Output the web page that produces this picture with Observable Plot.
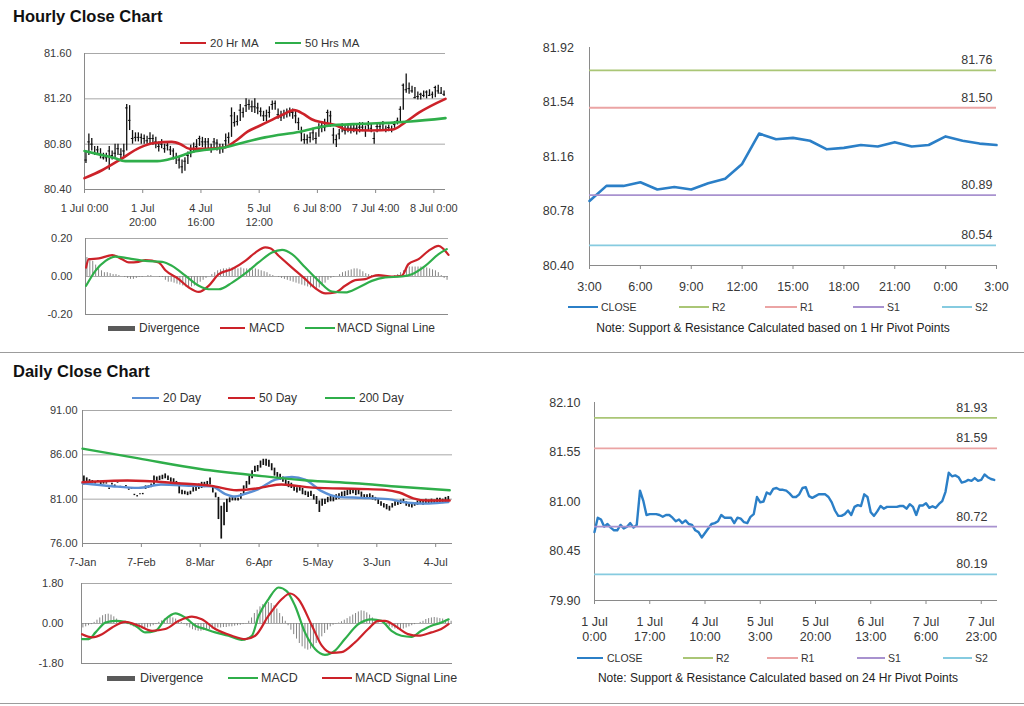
<!DOCTYPE html>
<html>
<head>
<meta charset="utf-8">
<script src="https://cdn.jsdelivr.net/npm/d3@7"></script>
<script src="https://cdn.jsdelivr.net/npm/@observablehq/plot@0.6"></script>
<style>
html,body{margin:0;padding:0;background:#fff;}
#root{position:relative;width:1024px;height:706px;overflow:hidden;background:#fff;font-family:"Liberation Sans",Arial,Helvetica,sans-serif;color:#333;}
.title{position:absolute;font-weight:bold;font-size:16.5px;line-height:16px;color:#111;white-space:nowrap;}
.sep{position:absolute;left:0;width:1024px;height:1px;background:#9c9c9c;}
.leg{position:absolute;height:16px;display:flex;align-items:center;white-space:nowrap;color:#333;}
.leg .sw{display:inline-block;}
.note{position:absolute;height:16px;line-height:16px;font-size:12px;color:#222;white-space:nowrap;transform:translateX(-50%);}
</style>
</head>
<body>
<div id="root"></div>
<script>
// ---------------- DATA ----------------
// Hourly bars, 1 Jul 0:00 -> 8 Jul 3:00 (124 bars)
const hourlyClose = [
80.66,80.82,80.80,80.72,80.75,80.71,80.68,80.68,80.74,80.70,
80.72,80.76,80.71,80.74,81.12,81.01,80.85,80.86,80.86,80.86,
80.85,80.83,80.85,80.85,80.82,80.78,80.80,80.76,80.79,80.75,
80.74,80.68,80.66,80.60,80.65,80.70,80.75,80.76,80.78,80.85,
80.82,80.82,80.82,80.76,80.82,80.81,80.77,80.76,80.83,80.86,
81.05,80.99,81.00,81.10,81.08,81.14,81.15,81.13,81.13,81.12,
81.09,81.05,81.05,81.08,81.15,81.16,81.06,81.04,81.06,81.08,
81.08,81.08,81.05,80.99,80.90,80.84,80.84,80.86,80.90,80.85,
80.94,80.96,80.95,81.08,81.05,80.88,80.84,80.89,80.95,80.92,
80.94,80.94,80.94,80.94,80.95,80.95,80.92,80.97,80.94,
80.85,80.955,80.955,80.98,80.93,80.947,80.93,80.973,81.005,81.108,
81.32,81.28,81.29,81.27,81.21,81.22,81.24,81.23,81.26,81.23,
81.24,81.30,81.27,81.25,81.24];
const hourlyHigh = [
80.74,80.89,80.85,80.78,80.78,80.76,80.72,80.72,80.78,80.74,
80.80,80.80,80.76,80.80,81.15,81.14,80.92,80.90,80.90,80.89,
80.88,80.87,80.90,80.88,80.86,80.82,80.84,80.80,80.82,80.78,
80.76,80.72,80.69,80.66,80.68,80.73,80.79,80.81,80.84,80.87,
80.86,80.85,80.85,80.80,80.85,80.84,80.80,80.80,80.89,80.90,
81.12,81.08,81.05,81.15,81.12,81.20,81.19,81.18,81.20,81.16,
81.12,81.09,81.10,81.13,81.18,81.18,81.11,81.09,81.10,81.11,
81.12,81.11,81.09,81.03,80.95,80.89,80.88,80.90,80.94,80.90,
80.98,81.00,81.02,81.10,81.09,80.94,80.88,80.93,80.98,80.97,
80.97,80.97,80.98,80.97,80.99,80.99,80.96,81.00,80.98,80.90,
80.98,80.99,81.00,80.96,80.97,80.96,81.00,81.03,81.13,81.33,
81.42,81.34,81.31,81.30,81.26,81.25,81.27,81.27,81.28,81.26,
81.31,81.32,81.30,81.27];
const hourlyLow = [
80.63,80.70,80.74,80.70,80.70,80.67,80.66,80.64,80.57,80.66,
80.68,80.70,80.66,80.68,80.74,80.92,80.80,80.82,80.82,80.80,
80.80,80.80,80.80,80.79,80.76,80.73,80.76,80.72,80.74,80.70,
80.66,80.62,80.58,80.54,80.56,80.62,80.68,80.72,80.74,80.78,
80.77,80.76,80.76,80.72,80.75,80.74,80.71,80.72,80.76,80.80,
80.86,80.95,80.96,81.00,81.03,81.08,81.10,81.08,81.07,81.06,
81.04,81.00,81.00,81.03,81.10,81.10,81.02,81.00,81.02,81.03,
81.04,81.02,80.98,80.92,80.82,80.80,80.80,80.81,80.83,80.80,
80.86,80.90,80.91,80.98,80.95,80.80,80.77,80.84,80.90,80.88,
80.90,80.89,80.90,80.88,80.90,80.91,80.86,80.92,80.90,80.80,
80.90,80.92,80.93,80.90,80.91,80.90,80.94,80.97,81.00,81.10,
81.25,81.24,81.25,81.20,81.19,81.19,81.21,81.20,81.22,81.20,
81.21,81.24,81.24,81.22];
const hourlyTickIdx = [0,20,40,60,80,100,120];
const hourlyTickLabels = ["1 Jul 0:00","1 Jul\n20:00","4 Jul\n16:00","5 Jul\n12:00","6 Jul 8:00","7 Jul 4:00","8 Jul 0:00"];
const hourlyYTicks = [80.40,80.80,81.20,81.60];
const ma20HIdx = [0,6,12,19,24,30,33,36,42,48,52,56,60,64,68,72,75,78,82,86,90,98,106,110,115,124];
const ma20H    = [80.50,80.57,80.66,80.77,80.81,80.82,80.80,80.76,80.76,80.77,80.83,80.91,80.96,81.01,81.06,81.10,81.07,81.02,80.99,80.97,80.93,80.92,80.93,80.99,81.08,81.20];
const ma50HIdx = [0,5,10,14,25,31,37,48,54,62,74,83,95,106,112,124];
const ma50H    = [80.74,80.71,80.68,80.65,80.65,80.68,80.73,80.77,80.81,80.86,80.91,80.96,80.98,80.99,81.00,81.03];

// Hourly MACD
const macdHIdx = [0.2,1.1,4.6,9.2,12.6,14.9,18.3,20.6,25.2,27.5,32.1,35.6,39,42.4,45.9,50.5,55,58.5,61.9,63.6,66.5,71.1,75.7,79.1,82.6,86,89.4,92.9,96.3,98.6,100.9,105.5,108.9,111.2,114.7,118.1,121.6,123.3,125];
const macdH    = [0.047,0.091,0.095,0.112,0.091,0.074,0.077,0.086,0.074,0.033,-0.014,-0.058,-0.081,-0.049,0.012,0.039,0.082,0.126,0.153,0.149,0.109,0.047,-0.014,-0.061,-0.089,-0.084,-0.049,-0.019,-0.014,0,0.007,0,0.004,0.065,0.091,0.135,0.161,0.144,0.114];
const sigHIdx  = [0.2,3.4,6.9,10.3,14.9,20.6,26.4,29.8,34.4,39,42.4,45.9,50.5,55,59.6,64.2,67.7,71.1,75.7,80.3,84.9,89.4,94,98.6,103.2,108.9,112.4,117,121.6,124.4];
const sigH     = [-0.049,0.03,0.082,0.105,0.095,0.082,0.077,0.056,0.004,-0.049,-0.067,-0.067,-0.032,0.016,0.074,0.126,0.140,0.118,0.047,-0.023,-0.079,-0.084,-0.058,-0.023,-0.005,0,0.012,0.056,0.118,0.144];
const divH = [
0.10,0.09,0.08,0.06,0.04,0.03,0.02,0.02,0.015,0.01,
0.01,0.005,0,-0.005,-0.01,-0.015,-0.015,-0.01,-0.005,-0.005,
0,0.005,0.005,0,0,-0.005,-0.005,-0.02,-0.03,-0.03,
-0.035,-0.04,-0.045,-0.05,-0.055,-0.06,-0.055,-0.05,-0.04,-0.03,
-0.02,-0.01,0,0.01,0.02,0.03,0.035,0.04,0.04,0.045,
0.045,0.045,0.04,0.045,0.04,0.04,0.04,0.035,0.04,0.035,
0.03,0.025,0.02,0.01,0.005,0,-0.005,-0.01,-0.015,-0.02,
-0.025,-0.03,-0.035,-0.04,-0.045,-0.05,-0.055,-0.06,-0.06,-0.065,
-0.06,-0.05,-0.035,-0.02,-0.01,-0.005,0,0.01,0.02,0.025,
0.03,0.035,0.04,0.04,0.035,0.025,0.015,0.01,0.005,0.005,
0,0,0,0.005,0,0,0.005,0.01,0.02,0.03,
0.045,0.05,0.05,0.05,0.05,0.05,0.045,0.045,0.04,0.035,
0.03,0.02,0.005,-0.01,-0.02];
const macdHYTicks = [-0.20,0.00,0.20];

// 1 Hr pivot chart (last 25 hourly closes: 7 Jul 3:00 -> 8 Jul 3:00)
const pivotStart1h = 99;
const pivot1hTickLabels = ["3:00","6:00","9:00","12:00","15:00","18:00","21:00","0:00","3:00"];
const pivot1hYTicks = [80.40,80.78,81.16,81.54,81.92];
const pivotNames = ["R2","R1","S1","S2"];
const pivot1h = [81.76,81.50,80.89,80.54];

// 24 Hr pivot chart
const pivot24hTickIdx = [0,17,34,51,68,85,102,119];
const pivot24hTickLabels = ["1 Jul\n0:00","1 Jul\n17:00","4 Jul\n10:00","5 Jul\n3:00","5 Jul\n20:00","6 Jul\n13:00","7 Jul\n6:00","7 Jul\n23:00"];
const pivot24hYTicks = [79.90,80.45,81.00,81.55,82.10];
const pivot24h = [81.93,81.59,80.72,80.19];

// Daily bars, 7-Jan -> 5-Jul
const dailyHigh = [
83.6,83.4,83.2,83.1,83.0,83.1,82.9,82.9,82.85,82.25,
82.8,82.6,82.9,82.45,82.35,82.55,82.15,82.2,81.55,81.4,
81.6,81.65,82.5,82.5,82.7,83.6,83.5,83.6,83.7,83.85,
83.6,83.4,83.3,83.0,82.8,82.0,81.9,81.8,81.9,82.3,
82.6,82.7,82.9,82.9,83.0,83.4,82.5,81.7,81.2,80.2,
80.6,81.0,81.15,81.2,81.15,81.1,81.6,82.5,83.0,83.6,
84.2,84.7,84.8,85.3,85.5,85.5,85.4,85.0,84.5,84.0,
83.8,83.5,83.2,83.0,82.8,82.5,82.3,82.5,82.2,81.9,
81.8,81.9,81.5,81.3,80.8,81.0,81.0,81.2,81.3,81.4,
81.5,81.6,81.8,81.9,82.0,82.1,82.2,82.0,82.1,81.8,
81.5,81.5,81.6,81.4,81.2,81.0,80.7,80.5,80.4,80.2,
80.5,80.7,80.8,80.9,81.0,80.7,80.6,80.5,80.6,80.8,
80.9,80.8,81.0,80.9,81.0,80.9,81.1,81.1,81.0,81.2,81.3];
const dailyLow = [
82.6,82.8,82.7,82.8,82.7,82.9,82.6,82.7,82.7,82.1,
82.6,82.4,82.8,82.3,82.2,82.4,82.0,82.1,81.4,81.25,
81.5,81.5,82.1,82.2,82.3,82.5,83.0,83.1,83.2,83.3,
83.1,82.9,82.8,82.6,81.6,81.5,81.5,81.4,81.5,81.8,
81.9,82.1,82.2,82.3,82.4,82.6,81.7,81.15,78.7,76.5,
78.0,79.5,80.6,80.8,80.8,80.8,81.0,81.5,82.2,82.6,
83.3,84.0,84.1,84.5,84.8,84.7,84.6,84.2,83.6,83.4,
83.1,82.9,82.5,82.3,82.2,81.9,81.7,81.9,81.5,81.4,
81.2,81.3,80.9,80.4,79.5,80.2,80.4,80.6,80.7,80.7,
80.9,81.0,81.2,81.3,81.4,81.5,81.6,81.4,81.5,81.2,
81.1,81.0,81.1,80.9,80.8,80.4,80.2,80.0,79.8,79.65,
80.0,80.2,80.3,80.4,80.5,80.2,80.1,80.0,80.2,80.3,
80.4,80.3,80.5,80.4,80.5,80.4,80.5,80.6,80.5,80.6,80.7];
const dailyTickIdx = [0,21,42,63,84,105,126];
const dailyTickLabels = ["7-Jan","7-Feb","8-Mar","6-Apr","5-May","3-Jun","4-Jul"];
const dailyYTicks = [76,81,86,91];
const d20Idx = [0,10.5,20,28,40,46,50.8,54.3,57.9,62.6,68.8,74.7,79.4,85.3,91.2,99.5,109,116,123.5,130.5];
const d20    = [82.8,82.46,82.27,82.65,82.5,82.46,81.6,81.3,81.6,82.1,83.2,83.5,83.2,81.9,81.26,81.15,81.0,80.6,80.5,80.66];
const d50Idx = [0,16,34,46,55,62,66,71,82,99,108,113,118,123,131];
const d50    = [82.9,83.1,82.8,82.5,82.0,82.2,82.45,82.65,82.3,82.15,82.05,81.75,81.1,80.85,80.85];
const d200Idx = [0,20,42,64,80,97,113,131];
const d200    = [86.7,85.6,84.4,83.6,83.1,82.8,82.4,82.0];

// Daily MACD
const dMacdIdx = [0.2,2.6,5,8.5,12,15.6,19.2,22.7,26.3,29.8,33.4,36.9,40.5,44,47.6,52.3,57,60.6,63,66.5,70.1,73,76,79.5,83.1,86.6,90.2,93.7,98.5,103.2,106.7,110.3,113.8,117.4,120.9,124.5,128,130.6];
const dMacd    = [-0.70,-0.70,-0.40,0.04,0.12,0.07,-0.10,-0.40,-0.33,0.19,0.46,0.27,-0.10,-0.25,-0.40,-0.55,-0.74,-0.55,0.34,1.09,1.62,1.46,0.79,-0.40,-1.15,-1.41,-1.22,-0.70,-0.03,0.19,0.12,-0.33,-0.55,-0.60,-0.33,-0.10,0.04,0.19];
const dSigIdx  = [0.2,3.8,7.3,10.9,15.6,20.4,25.1,29.8,34.6,39.3,42.8,47.6,53.5,58.2,61.8,66.5,71.2,74.2,77.2,82,85.5,89,92.5,97.3,102,105.6,108,111.5,116.2,119.8,124.5,128,130.6];
const dSig     = [-0.48,-0.62,-0.48,-0.18,0.07,-0.10,-0.33,-0.25,0.12,0.31,0.19,-0.25,-0.55,-0.70,-0.55,0.34,1.09,1.35,1.09,-0.10,-1.00,-1.32,-1.29,-0.85,-0.25,0.12,0.12,-0.10,-0.48,-0.55,-0.40,-0.25,-0.03];
const divD = [
-0.2,-0.15,-0.1,-0.05,0.05,0.15,0.25,0.35,0.40,0.42,
0.38,0.3,0.2,0.1,0.05,0,-0.05,-0.1,-0.15,-0.2,
-0.25,-0.25,-0.25,-0.2,-0.15,-0.1,-0.05,0.05,0.12,0.2,
0.25,0.27,0.25,0.2,0.12,0.05,-0.05,-0.12,-0.2,-0.28,
-0.32,-0.35,-0.35,-0.32,-0.3,-0.28,-0.25,-0.22,-0.2,-0.2,
-0.18,-0.18,-0.15,-0.15,-0.12,-0.1,-0.08,-0.05,-0.02,0.1,
0.25,0.45,0.6,0.75,0.85,0.92,0.95,0.9,0.8,0.65,
0.45,0.3,0.1,-0.1,-0.3,-0.5,-0.7,-0.9,-1.05,-1.15,
-1.2,-1.15,-1.05,-0.9,-0.75,-0.6,-0.45,-0.3,-0.15,-0.08,
-0.03,0.02,0.08,0.15,0.22,0.3,0.38,0.45,0.52,0.57,
0.55,0.48,0.38,0.25,0.12,0.05,0,-0.05,-0.1,-0.15,
-0.2,-0.25,-0.28,-0.28,-0.25,-0.2,-0.15,-0.1,-0.05,0,
0.05,0.1,0.18,0.22,0.25,0.27,0.25,0.22,0.2,0.15,0.12,0.1];
const macdDYTicks = [-1.80,0.00,1.80];

// ---------------- STYLE ----------------
const FONT = '"Liberation Sans", Arial, Helvetica, sans-serif';
const GRID = "#a8a8a8", AXIS = "#8a8a8a", TXT = "#383838";
const RED = "#cc2229", GREEN = "#2fae4a", BLUE20 = "#5a8fd4", CLOSEC = "#2b7fc7", DIVC = "#858585";
const pivotColors = ["#aac676","#eba4a4","#a892cf","#86cbe0"];

const root = document.getElementById("root");
function addTitle(text, x, top) {
  const d = document.createElement("div"); d.className = "title";
  d.style.left = x + "px"; d.style.top = top + "px"; d.textContent = text; root.appendChild(d);
}
function addSep(y) {
  const d = document.createElement("div"); d.className = "sep"; d.style.top = y + "px"; root.appendChild(d);
}
function addLegend(y, fontSize, items) {
  items.forEach(it => {
    const d = document.createElement("div"); d.className = "leg";
    d.style.left = it.x + "px"; d.style.top = (y - 8) + "px"; d.style.fontSize = fontSize + "px";
    const sw = document.createElement("span"); sw.className = "sw";
    sw.style.width = it.w + "px"; sw.style.height = (it.h || 2) + "px"; sw.style.background = it.color;
    sw.style.marginRight = (it.gap || 4) + "px";
    d.appendChild(sw); d.appendChild(document.createTextNode(it.label)); root.appendChild(d);
  });
}
function addNote(text, cx, y) {
  const d = document.createElement("div"); d.className = "note";
  d.style.left = cx + "px"; d.style.top = (y - 8) + "px"; d.textContent = text; root.appendChild(d);
}
const pts = (xs, ys) => xs.map((x, i) => ({x, y: ys[i]}));

function panel(o) {
  const left = o.fx0 - 90, top = o.fy0 - 30;
  const width = o.fx1 - left + 30, height = o.fy1 - top + 50;
  const yPerPx = (o.yDomain[1] - o.yDomain[0]) / (o.fy1 - o.fy0);
  const marks = [];
  if (o.grid) marks.push(Plot.ruleY(o.grid, {stroke: GRID, strokeWidth: 1}));
  marks.push(Plot.ruleX([o.xDomain[0]], {stroke: AXIS}));
  marks.push(Plot.ruleY([o.yDomain[0]], {stroke: AXIS}));
  marks.push(Plot.text(o.yTicks, {x: o.xDomain[0], y: d => d, text: d => d.toFixed(2), textAnchor: "end", dx: -o.yPad, fontSize: o.yFont, fill: TXT}));
  if (o.xTicks) {
    marks.push(Plot.ruleX(o.xTicks, {y1: o.yDomain[0], y2: o.yDomain[0] - 4 * yPerPx, stroke: AXIS}));
    marks.push(Plot.text(o.xTicks, {x: d => d, y: o.yDomain[0], text: (d, i) => o.xLabels[i], lineAnchor: "top", dy: o.xDy, fontSize: o.xFont, lineHeight: o.xLH || 1.2, fill: TXT}));
  }
  marks.push(...o.marks);
  const svg = Plot.plot({
    width, height,
    marginLeft: o.fx0 - left, marginRight: width - (o.fx1 - left),
    marginTop: o.fy0 - top, marginBottom: height - (o.fy1 - top),
    x: {domain: o.xDomain, axis: null},
    y: {domain: o.yDomain, axis: null},
    style: {background: "transparent", overflow: "visible", fontFamily: FONT, fontSize: "11px", color: TXT},
    marks
  });
  svg.style.position = "absolute"; svg.style.left = left + "px"; svg.style.top = top + "px";
  svg.style.maxWidth = "none";
  root.appendChild(svg);
}

// ---------------- TITLES / SEPARATORS ----------------
addTitle("Hourly Close Chart", 13, 8);
addTitle("Daily Close Chart", 13, 363);
addSep(352);
addSep(703);

// ---------------- PANEL 1: hourly bars ----------------
const hBars = hourlyClose.map((c, i) => ({i, c, h: hourlyHigh[i], l: hourlyLow[i]}));
panel({fx0: 84, fx1: 445, fy0: 53, fy1: 189, xDomain: [0, 124], yDomain: [80.4, 81.6],
  grid: hourlyYTicks, yTicks: hourlyYTicks, yPad: 13, yFont: 11,
  xTicks: hourlyTickIdx, xLabels: hourlyTickLabels, xDy: 13, xFont: 11, xLH: 1.27,
  marks: [
    Plot.ruleX(hBars, {x: d => d.i + 0.5, y1: "l", y2: "h", stroke: "#111", strokeWidth: 1.3}),
    Plot.ruleY(hBars, {y: "c", x1: d => d.i + 0.1, x2: d => d.i + 0.95, stroke: "#111", strokeWidth: 1}),
    Plot.line(pts(ma20HIdx, ma20H), {x: "x", y: "y", stroke: RED, strokeWidth: 2.6, curve: "monotone-x"}),
    Plot.line(pts(ma50HIdx, ma50H), {x: "x", y: "y", stroke: GREEN, strokeWidth: 2.6, curve: "monotone-x"})
  ]});
addLegend(43, 11.5, [
  {x: 180, w: 26, color: RED, label: "20 Hr MA"},
  {x: 275, w: 26, color: GREEN, label: "50 Hrs MA"}
]);

// ---------------- PANEL 2: hourly MACD ----------------
panel({fx0: 85, fx1: 448, fy0: 238, fy1: 314, xDomain: [0, 125], yDomain: [-0.2, 0.2],
  grid: macdHYTicks, yTicks: macdHYTicks, yPad: 13, yFont: 11,
  marks: [
    Plot.ruleX(divH.map((v, i) => ({i, v})), {x: d => d.i + 0.5, y1: 0, y2: "v", stroke: DIVC, strokeWidth: 1}),
    Plot.line(pts(macdHIdx, macdH), {x: "x", y: "y", stroke: RED, strokeWidth: 2.2, curve: "monotone-x"}),
    Plot.line(pts(sigHIdx, sigH), {x: "x", y: "y", stroke: GREEN, strokeWidth: 2.2, curve: "monotone-x"})
  ]});
addLegend(328, 12, [
  {x: 108, w: 27, h: 5, color: "#5a5a5a", label: "Divergence"},
  {x: 220, w: 25, color: RED, label: "MACD"},
  {x: 305, w: 30, color: GREEN, label: "MACD Signal Line", gap: 2}
]);

// ---------------- PANEL 3: 1 Hr pivots ----------------
const close1h = hourlyClose.slice(pivotStart1h).map((y, x) => ({x, y}));
panel({fx0: 589, fx1: 996, fy0: 47, fy1: 265, xDomain: [0, 24], yDomain: [80.40, 81.92],
  yTicks: pivot1hYTicks, yPad: 15.5, yFont: 12.5,
  xTicks: d3.range(0, 25, 3), xLabels: pivot1hTickLabels, xDy: 15, xFont: 12.5,
  marks: [
    Plot.line(close1h, {x: "x", y: "y", stroke: CLOSEC, strokeWidth: 2.6}),
    ...pivot1h.map((v, k) => Plot.ruleY([v], {stroke: pivotColors[k], strokeWidth: 1.8})),
    Plot.text(pivot1h, {x: 24, y: d => d, text: d => d.toFixed(2), textAnchor: "end", dx: -4, dy: -10, fontSize: 12.5, fill: TXT})
  ]});
addLegend(307, 10.5, [
  {x: 568, w: 30, color: CLOSEC, label: "CLOSE", gap: 3},
  {x: 679, w: 30, color: pivotColors[0], label: "R2", gap: 3},
  {x: 765, w: 32, color: pivotColors[1], label: "R1", gap: 3},
  {x: 853, w: 31, color: pivotColors[2], label: "S1", gap: 3},
  {x: 942, w: 30, color: pivotColors[3], label: "S2", gap: 3}
]);
addNote("Note: Support & Resistance Calculated based on 1 Hr Pivot Points", 773, 328);

// ---------------- PANEL 4: daily bars ----------------
const dBars = dailyHigh.map((h, i) => ({i, h, l: dailyLow[i]}));
panel({fx0: 82, fx1: 452, fy0: 410, fy1: 543, xDomain: [0, 132], yDomain: [76, 91],
  grid: dailyYTicks, yTicks: dailyYTicks, yPad: 5, yFont: 11,
  xTicks: dailyTickIdx, xLabels: dailyTickLabels, xDy: 13, xFont: 11,
  marks: [
    Plot.ruleX(dBars, {x: d => d.i + 0.5, y1: "l", y2: "h", stroke: "#111", strokeWidth: 1.7}),
    Plot.line(pts(d20Idx, d20), {x: "x", y: "y", stroke: BLUE20, strokeWidth: 2.4, curve: "monotone-x"}),
    Plot.line(pts(d50Idx, d50), {x: "x", y: "y", stroke: RED, strokeWidth: 2.4, curve: "monotone-x"}),
    Plot.line(pts(d200Idx, d200), {x: "x", y: "y", stroke: GREEN, strokeWidth: 2.4, curve: "monotone-x"})
  ]});
addLegend(398, 12, [
  {x: 132, w: 27, color: BLUE20, label: "20 Day"},
  {x: 228, w: 27, color: RED, label: "50 Day"},
  {x: 325, w: 30, color: GREEN, label: "200 Day"}
]);

// ---------------- PANEL 5: daily MACD ----------------
panel({fx0: 81, fx1: 452, fy0: 583, fy1: 663, xDomain: [0, 132], yDomain: [-1.8, 1.8],
  grid: macdDYTicks, yTicks: macdDYTicks, yPad: 18, yFont: 11,
  marks: [
    Plot.ruleX(divD.map((v, i) => ({i, v})), {x: d => d.i + 0.5, y1: 0, y2: "v", stroke: DIVC, strokeWidth: 1}),
    Plot.line(pts(dMacdIdx, dMacd), {x: "x", y: "y", stroke: GREEN, strokeWidth: 2.2, curve: "monotone-x"}),
    Plot.line(pts(dSigIdx, dSig), {x: "x", y: "y", stroke: RED, strokeWidth: 2.2, curve: "monotone-x"})
  ]});
addLegend(678, 12.5, [
  {x: 107, w: 28, h: 5, color: "#5a5a5a", label: "Divergence", gap: 5},
  {x: 228, w: 30, color: GREEN, label: "MACD", gap: 3},
  {x: 322, w: 30, color: RED, label: "MACD Signal Line", gap: 3}
]);

// ---------------- PANEL 6: 24 Hr pivots ----------------
const close24h = hourlyClose.map((y, x) => ({x, y}));
panel({fx0: 594, fx1: 997, fy0: 402, fy1: 600, xDomain: [0, 124], yDomain: [79.90, 82.10],
  yTicks: pivot24hYTicks, yPad: 14, yFont: 12.5,
  xTicks: pivot24hTickIdx, xLabels: pivot24hTickLabels, xDy: 14.5, xFont: 12.5, xLH: 1.2,
  marks: [
    Plot.line(close24h, {x: "x", y: "y", stroke: CLOSEC, strokeWidth: 2.4}),
    ...pivot24h.map((v, k) => Plot.ruleY([v], {stroke: pivotColors[k], strokeWidth: 1.8})),
    Plot.text(pivot24h, {x: 124, y: d => d, text: d => d.toFixed(2), textAnchor: "end", dx: -10, dy: -10, fontSize: 12.5, fill: TXT})
  ]});
addLegend(658, 10.5, [
  {x: 577, w: 26, color: CLOSEC, label: "CLOSE", gap: 4},
  {x: 683, w: 30, color: pivotColors[0], label: "R2", gap: 3},
  {x: 767, w: 31, color: pivotColors[1], label: "R1", gap: 3},
  {x: 857, w: 28, color: pivotColors[2], label: "S1", gap: 3},
  {x: 943, w: 29, color: pivotColors[3], label: "S2", gap: 3}
]);
addNote("Note: Support & Resistance Calculated based on 24 Hr Pivot Points", 778, 678);
</script>
</body>
</html>
